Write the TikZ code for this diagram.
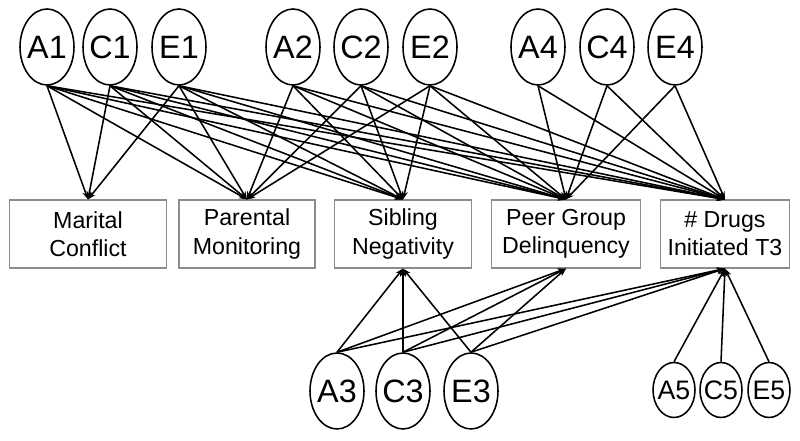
\documentclass[tikz,border=0pt]{standalone}
\usepackage{fontspec}
\setmainfont{Liberation Sans}
\usetikzlibrary{arrows.meta, shapes.geometric}

\begin{document}
\begin{tikzpicture}[
    latent/.style={
        ellipse,
        draw=black,
        line width=1.1pt,
        minimum width=1.35cm,
        minimum height=1.9cm,
        inner xsep=-2.5pt,
        inner ysep=0pt,
        font=\fontsize{23}{25}\selectfont
    },
    smalllatent/.style={
        latent,
        minimum width=1.05cm,
        minimum height=1.375cm,
        inner xsep=-3.5pt,
        font=\fontsize{19}{21}\selectfont
    },
    box/.style={
        rectangle,
        draw=black!45,
        line width=0.8pt,
        minimum height=1.7cm,
        align=center,
        font=\fontsize{16.5}{20}\selectfont
    },
    arrow/.style={-{Stealth[length=2mm, width=1.5mm]}, line width=1.1pt}
]

\useasboundingbox (0,0) rectangle (20,11.025);

% === Observed measures ===
\node[box, minimum width=3.925cm] (marital) at (2.2, 5.175) {Marital\\Conflict};
\node[box, minimum width=3.4cm] (parental) at (6.175, 5.175) {Parental\\Monitoring};
\node[box, minimum width=3.425cm] (sibling) at (10.075, 5.175) {Sibling\\Negativity};
\node[box, minimum width=3.725cm] (peer) at (14.15, 5.175) {Peer Group\\Delinquency};
\node[box, minimum width=3.225cm] (drugs) at (18.125, 5.175) {\# Drugs\\Initiated T3};

% === Top latent factors ===
\node[latent] (A1) at (1.175, 9.85) {A1};
\node[latent] (C1) at (2.75, 9.85) {C1};
\node[latent] (E1) at (4.475, 9.85) {E1};
\node[latent] (A2) at (7.325, 9.85) {A2};
\node[latent] (C2) at (9.025, 9.85) {C2};
\node[latent] (E2) at (10.75, 9.85) {E2};
\node[latent] (A4) at (13.45, 9.85) {A4};
\node[latent] (C4) at (15.175, 9.85) {C4};
\node[latent] (E4) at (16.875, 9.85) {E4};

% === Bottom latent factors ===
\node[latent] (A3) at (8.425, 1.25) {A3};
\node[latent] (C3) at (10.075, 1.25) {C3};
\node[latent] (E3) at (11.775, 1.25) {E3};
\node[smalllatent] (A5) at (16.85, 1.275) {A5};
\node[smalllatent] (C5) at (18.025, 1.275) {C5};
\node[smalllatent] (E5) at (19.225, 1.275) {E5};

% Paths from top factors
\foreach \f in {A1, C1, E1} {
    \foreach \m in {marital, parental, sibling, peer, drugs}
        \draw[arrow] (\f.south) -- (\m.north);
}
\foreach \f in {A2, C2, E2} {
    \foreach \m in {parental, sibling, peer, drugs}
        \draw[arrow] (\f.south) -- (\m.north);
}
\foreach \f in {A4, C4, E4} {
    \foreach \m in {peer, drugs}
        \draw[arrow] (\f.south) -- (\m.north);
}

% Paths from bottom factors
\foreach \f in {A3, C3, E3} {
    \foreach \m in {sibling, peer, drugs}
        \draw[arrow] (\f.north) -- (\m.south);
}
\foreach \f in {A5, C5, E5}
    \draw[arrow] (\f.north) -- (drugs.south);

\end{tikzpicture}
\end{document}
